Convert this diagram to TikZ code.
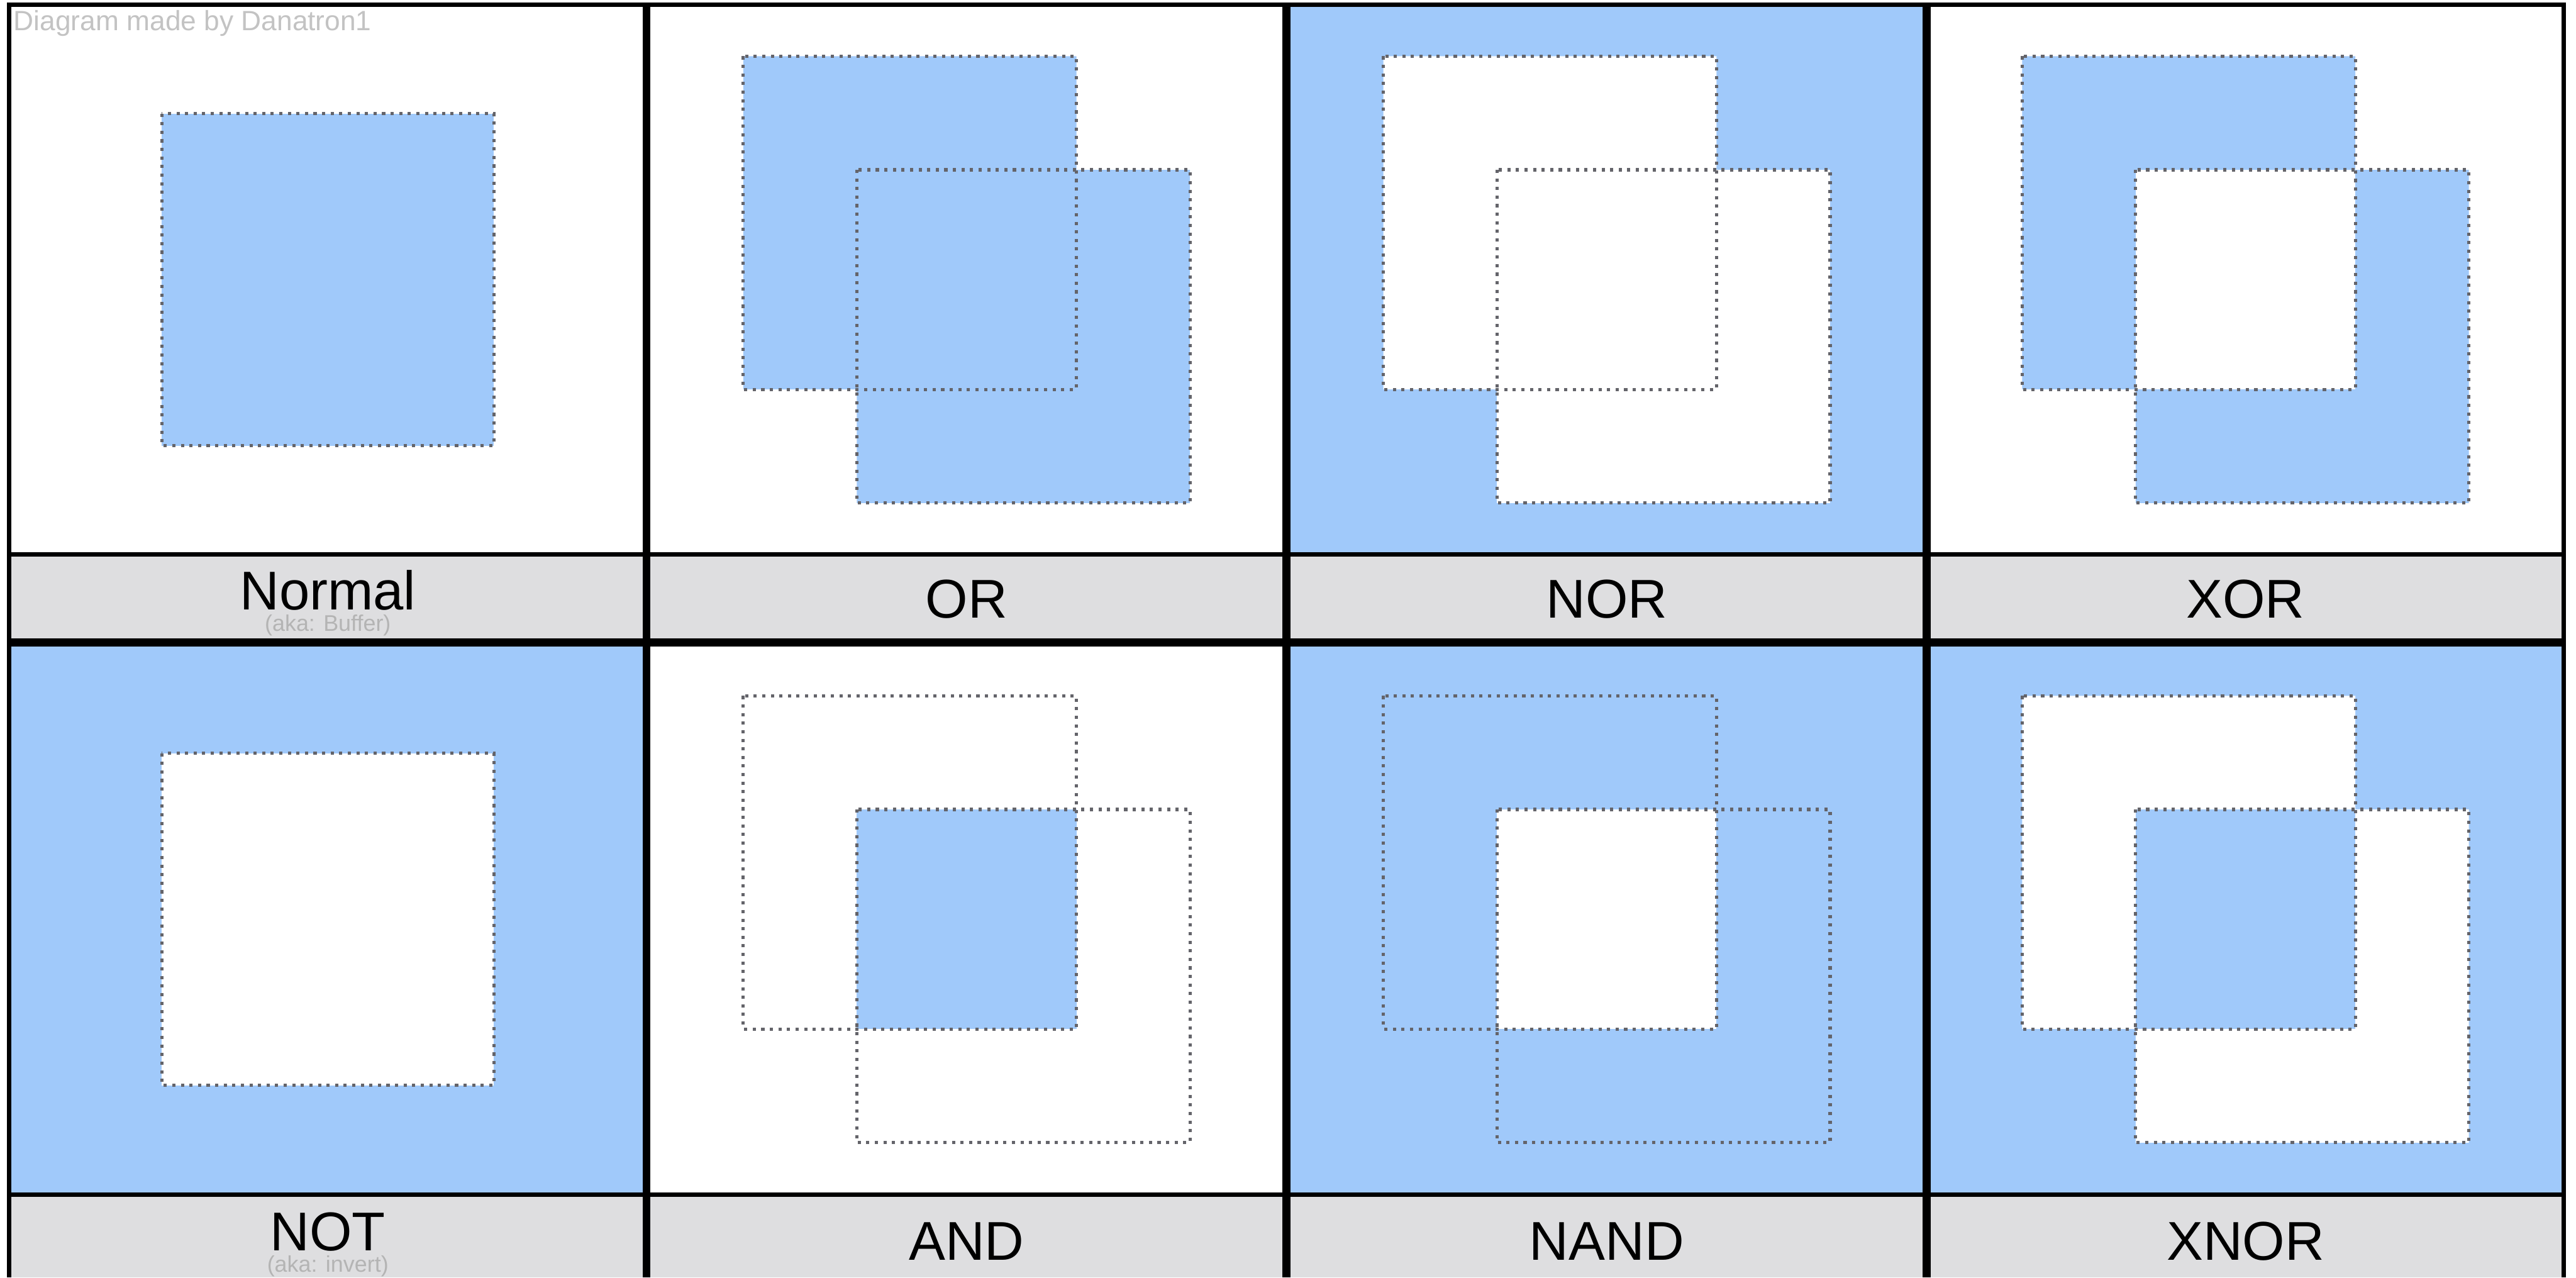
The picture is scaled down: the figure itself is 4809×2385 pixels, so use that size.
\documentclass[tikz,border=0pt]{standalone}
\usepackage{fontspec}
\setmainfont{Liberation Sans}
\definecolor{fillblue}{RGB}{160,201,250}
\definecolor{capgray}{RGB}{222,222,224}
\definecolor{dotgray}{RGB}{100,100,106}
\definecolor{creditgray}{RGB}{195,195,195}
\definecolor{akagray}{RGB}{180,180,180}
\begin{document}
\begin{tikzpicture}[x=0.1mm,y=-0.1mm,
  dotsq/.style={draw=dotgray,line width=1.7pt,dash pattern=on 1.7pt off 2.85pt},
  outerline/.style={line width=2.28pt,draw=black},
  thickline/.style={line width=4.27pt,draw=black},
  thinline/.style={line width=2.28pt,draw=black},
  gatelabel/.style={anchor=base,inner sep=0pt,font=\fontsize{29}{30}\selectfont},
  akalabel/.style={anchor=base,inner sep=0pt,text=akagray,font=\fontsize{12}{13}\selectfont},
]
\useasboundingbox (0,0) rectangle (4809,2385);
\fill[white] (0,0) rectangle (4809,2385);
% cell backgrounds
\fill[fillblue] (2402,9) rectangle (3597,1035);   % NOR
\fill[fillblue] (17,1199) rectangle (1207,2230);  % NOT
\fill[fillblue] (2402,1199) rectangle (4787,2230);% NAND, XNOR
\fill[capgray] (17,1035) rectangle (4787,1199);
\fill[capgray] (17,2230) rectangle (4787,2385);
% Normal
\begin{scope}[shift={(612,522)}]
  \fill[fillblue] (-310,-310) rectangle (310,310);
  \draw[dotsq] (-310,-310) rectangle (310,310);
\end{scope}
% OR
\begin{scope}[shift={(1804.5,522)}]
  \fill[fillblue] (-417,-417) rectangle (205,205) (-205,-205) rectangle (417,417);
  \draw[dotsq] (-417,-417) rectangle (205,205);
  \draw[dotsq] (-205,-205) rectangle (417,417);
\end{scope}
% NOR
\begin{scope}[shift={(2999.5,522)}]
  \fill[white] (-417,-417) rectangle (205,205) (-205,-205) rectangle (417,417);
  \draw[dotsq] (-417,-417) rectangle (205,205);
  \draw[dotsq] (-205,-205) rectangle (417,417);
\end{scope}
% XOR
\begin{scope}[shift={(4192,522)}]
  \fill[fillblue,even odd rule] (-417,-417) rectangle (205,205) (-205,-205) rectangle (417,417);
  \draw[dotsq] (-417,-417) rectangle (205,205);
  \draw[dotsq] (-205,-205) rectangle (417,417);
\end{scope}
% NOT
\begin{scope}[shift={(612,1716)}]
  \fill[white] (-310,-310) rectangle (310,310);
  \draw[dotsq] (-310,-310) rectangle (310,310);
\end{scope}
% AND
\begin{scope}[shift={(1804.5,1716)}]
  \fill[fillblue] (-205,-205) rectangle (205,205);
  \draw[dotsq] (-417,-417) rectangle (205,205);
  \draw[dotsq] (-205,-205) rectangle (417,417);
\end{scope}
% NAND
\begin{scope}[shift={(2999.5,1716)}]
  \fill[white] (-205,-205) rectangle (205,205);
  \draw[dotsq] (-417,-417) rectangle (205,205);
  \draw[dotsq] (-205,-205) rectangle (417,417);
\end{scope}
% XNOR
\begin{scope}[shift={(4192,1716)}]
  \fill[white] (-417,-417) rectangle (205,205) (-205,-205) rectangle (417,417);
  \fill[fillblue] (-205,-205) rectangle (205,205);
  \draw[dotsq] (-417,-417) rectangle (205,205);
  \draw[dotsq] (-205,-205) rectangle (417,417);
\end{scope}
% grid lines
\draw[outerline] (13,9) -- (4790,9);
\draw[outerline] (17,5) -- (17,2385);
\draw[outerline] (4786,5) -- (4786,2385);
\draw[thickline] (1207,5) -- (1207,2385);
\draw[thickline] (2402,5) -- (2402,2385);
\draw[thickline] (3597,5) -- (3597,2385);
\draw[thinline] (13,1035) -- (4790,1035);
\draw[thickline] (13,1199) -- (4790,1199);
\draw[thinline] (13,2230) -- (4790,2230);
% texts
\node[anchor=base west,inner sep=0pt,text=creditgray,font=\fontsize{14.8}{16}\selectfont] (credit) at (25,57) {Diagram made by Danatron1};
\node[gatelabel] (normal) at (612,1138) {Normal};
\node[akalabel] (buffer) at (612,1178) {(aka: Buffer)};
\node[gatelabel] (or) at (1804.5,1154) {OR};
\node[gatelabel] (nor) at (2999.5,1154) {NOR};
\node[gatelabel] (xor) at (4192,1154) {XOR};
\node[gatelabel] (not) at (612,2335) {NOT};
\node[akalabel] (invert) at (612,2375) {(aka: invert)};
\node[gatelabel] (and) at (1804.5,2352) {AND};
\node[gatelabel] (nand) at (2999.5,2352) {NAND};
\node[gatelabel] (xnor) at (4192,2352) {XNOR};
\end{tikzpicture}
\end{document}
